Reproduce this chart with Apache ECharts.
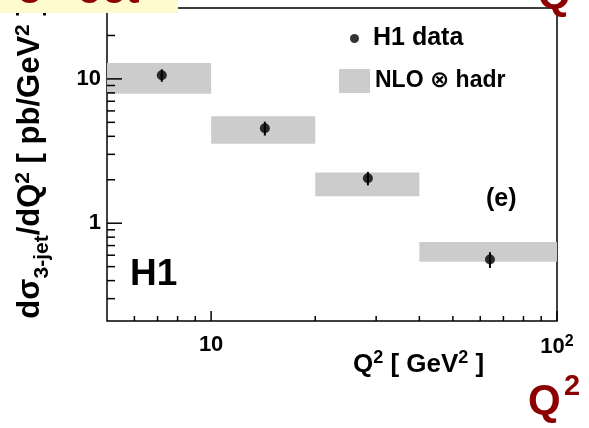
<!DOCTYPE html>
<html><head><meta charset="utf-8">
<script src="https://cdn.jsdelivr.net/npm/echarts@6/dist/echarts.min.js"></script>
<style>html,body{margin:0;padding:0;background:#fff}#c{width:589px;height:428px}</style>
</head><body><div id="c"></div>
<script>
// ---- data ----
const binLow  = [5, 10, 20, 40];
const binHigh = [10, 20, 40, 100];
const nloLow  = [7.9, 3.55, 1.54, 0.54];
const nloHigh = [12.9, 5.5, 2.25, 0.74];
const dataQ2   = [7.2, 14.3, 28.4, 64];
const dataXsec = [10.6, 4.55, 2.05, 0.56];
const dataErr  = [1.05, 0.5, 0.22, 0.07];
const xMajorTicks = [10, 100];
const xMinorTicks = [6, 7, 8, 9, 20, 30, 40, 50, 60, 70, 80, 90];
const yMajorTicks = [1, 10];
const yMinorTicks = [0.3, 0.4, 0.5, 0.6, 0.7, 0.8, 0.9, 2, 3, 4, 5, 6, 7, 8, 9, 20, 30];
const xRange = [5, 100];
const yRange = [0.21, 31];
const legendNames = ['H1 data', 'NLO ⊗ hadr'];

const FONT = '"Liberation Sans", Arial, Helvetica, "DejaVu Sans", sans-serif';
const RED = '#8b0000';

function isPow10(v) {
  const l = Math.log10(v);
  return Math.abs(l - Math.round(l)) < 1e-6;
}

const chart = echarts.init(document.getElementById('c'), null, {renderer: 'canvas'});

const bandData = binLow.map((lo, i) => [lo, binHigh[i], nloLow[i], nloHigh[i]]);
const pointData = dataQ2.map((q, i) => [q, dataXsec[i]]);
const errData = dataQ2.map((q, i) => [q, dataXsec[i], dataErr[i]]);
const xTickData = xMinorTicks.map(v => [v, 1, 0]).concat(xMajorTicks.map(v => [v, 1, 1]));
const yTickData = yMinorTicks.map(v => [xRange[0], v, 0]).concat(yMajorTicks.map(v => [xRange[0], v, 1]));

const option = {
  animation: false,
  backgroundColor: '#fff',
  grid: {left: 107, top: 8, right: 32, bottom: 107, show: true, borderColor: '#000', borderWidth: 1.5, backgroundColor: 'transparent'},
  xAxis: {
    type: 'log', logBase: 10, min: xRange[0], max: xRange[1],
    axisLine: {show: false}, axisTick: {show: false}, splitLine: {show: false},
    axisLabel: {
      margin: 13, showMinLabel: true, showMaxLabel: true,
      formatter: v => {
        if (!isPow10(v)) return '';
        const e = Math.round(Math.log10(v));
        return e === 1 ? '{a|10}' : '{a|10}{s|' + e + '}';
      },
      rich: {
        a: {fontSize: 22, fontWeight: 'bold', fontFamily: FONT, color: '#000'},
        s: {fontSize: 16, fontWeight: 'bold', fontFamily: FONT, color: '#000', padding: [0, 0, 10, 0]}
      }
    }
  },
  yAxis: {
    type: 'log', logBase: 10, min: yRange[0], max: yRange[1],
    axisLine: {show: false}, axisTick: {show: false}, splitLine: {show: false},
    axisLabel: {
      margin: 6, fontSize: 22, fontWeight: 'bold', fontFamily: FONT, color: '#000',
      formatter: v => (isPow10(v) && v >= 1) ? String(Math.round(v)) : ''
    }
  },
  legend: [
    {data: [{name: legendNames[0], icon: 'circle'}], left: 350, top: 26, orient: 'vertical',
     itemWidth: 27, itemHeight: 9, padding: 0, selectedMode: false,
     textStyle: {fontSize: 25, fontWeight: 'bold', fontFamily: FONT, color: '#000'}},
    {data: [{name: legendNames[1], icon: 'rect'}], left: 339, top: 69, orient: 'vertical',
     itemWidth: 31, itemHeight: 24, padding: 0, selectedMode: false,
     textStyle: {fontSize: 23, fontWeight: 'bold', fontFamily: FONT, color: '#000'}}
  ],
  series: [
    {
      name: legendNames[1], type: 'custom', z: 2, data: bandData,
      encode: {x: [0, 1], y: [2, 3]},
      itemStyle: {color: '#cccccc'},
      renderItem: (params, api) => {
        const p1 = api.coord([api.value(0), api.value(3)]);
        const p2 = api.coord([api.value(1), api.value(2)]);
        return {type: 'rect', shape: {x: p1[0], y: p1[1], width: p2[0] - p1[0], height: p2[1] - p1[1]},
                style: {fill: '#cccccc'}};
      }
    },
    {
      type: 'custom', z: 4, data: errData, silent: true,
      encode: {x: 0, y: 1},
      renderItem: (params, api) => {
        const x = api.value(0), y = api.value(1), e = api.value(2);
        const a = api.coord([x, y - e]), b = api.coord([x, y + e]);
        return {type: 'line', shape: {x1: a[0], y1: a[1], x2: b[0], y2: b[1]}, style: {stroke: '#000', lineWidth: 2}};
      }
    },
    {
      name: legendNames[0], type: 'scatter', z: 5, data: pointData,
      symbol: 'circle', symbolSize: 10, itemStyle: {color: '#000'}
    },
    {
      type: 'custom', z: 6, data: xTickData, silent: true,
      encode: {x: 0, y: 1},
      renderItem: (params, api) => {
        const cs = params.coordSys;
        const x = api.coord([api.value(0), 1])[0];
        const b = cs.y + cs.height;
        const len = api.value(2) ? 10 : 5;
        return {type: 'line', shape: {x1: x, y1: b, x2: x, y2: b - len}, style: {stroke: '#000', lineWidth: 1.5}};
      }
    },
    {
      type: 'custom', z: 6, data: yTickData, silent: true,
      encode: {x: 0, y: 1},
      renderItem: (params, api) => {
        const cs = params.coordSys;
        const y = api.coord([xRange[0], api.value(1)])[1];
        const len = api.value(2) ? 15 : 8;
        return {type: 'line', shape: {x1: cs.x, y1: y, x2: cs.x + len, y2: y}, style: {stroke: '#000', lineWidth: 1.5}};
      }
    }
  ],
  graphic: {
    z: 100,
    elements: [
      {type: 'text', z: 50, x: 130, y: 274.5,
       style: {text: 'H1', fontSize: 37, fontWeight: 'bold', fontFamily: FONT, fill: '#000', verticalAlign: 'middle'}},
      {type: 'text', z: 50, x: 486, y: 199,
       style: {text: '(e)', fontSize: 25, fontWeight: 'bold', fontFamily: FONT, fill: '#000', verticalAlign: 'middle'}},
      {type: 'text', z: 50, x: 353, y: 365,
       style: {text: '{m|Q}{p|2}{m| [ GeV}{p|2}{m| ]}', verticalAlign: 'middle', align: 'left',
         rich: {
           m: {fontSize: 26, fontWeight: 'bold', fontFamily: FONT, fill: '#000'},
           p: {fontSize: 18, fontWeight: 'bold', fontFamily: FONT, fill: '#000', padding: [0, 0, 14, 0]}
         }}},
      {type: 'text', z: 50, x: 30, y: 162, rotation: Math.PI / 2,
       style: {text: '{m|dσ}{b|3-jet}{m|/dQ}{p|2}{m| [ pb/GeV}{p|2}{m| ]}', verticalAlign: 'middle', align: 'center',
         rich: {
           m: {fontSize: 31, fontWeight: 'bold', fontFamily: FONT, fill: '#000'},
           b: {fontSize: 21, fontWeight: 'bold', fontFamily: FONT, fill: '#000', padding: [25, 0, 0, 0]},
           p: {fontSize: 21, fontWeight: 'bold', fontFamily: FONT, fill: '#000', padding: [0, 0, 13, 0]}
         }}},
      {type: 'rect', z: 100, shape: {x: 0, y: 0, width: 178, height: 13}, style: {fill: '#fffbd0'}},
      {type: 'text', z: 101, x: 18, y: -9,
       style: {text: '3 - Jet', fontSize: 42, fontWeight: 'bold', fontFamily: FONT, fill: RED, verticalAlign: 'middle'}},
      {type: 'text', z: 101, x: 538, y: -4,
       style: {text: 'Q', fontSize: 42, fontWeight: 'bold', fontFamily: FONT, fill: RED, verticalAlign: 'middle'}},
      {type: 'text', z: 101, x: 528, y: 402,
       style: {text: 'Q', fontSize: 42, fontWeight: 'bold', fontFamily: FONT, fill: RED, verticalAlign: 'middle'}},
      {type: 'text', z: 101, x: 564, y: 387,
       style: {text: '2', fontSize: 29, fontWeight: 'bold', fontFamily: FONT, fill: RED, verticalAlign: 'middle'}}
    ]
  }
};
chart.setOption(option);
</script>
</body></html>
